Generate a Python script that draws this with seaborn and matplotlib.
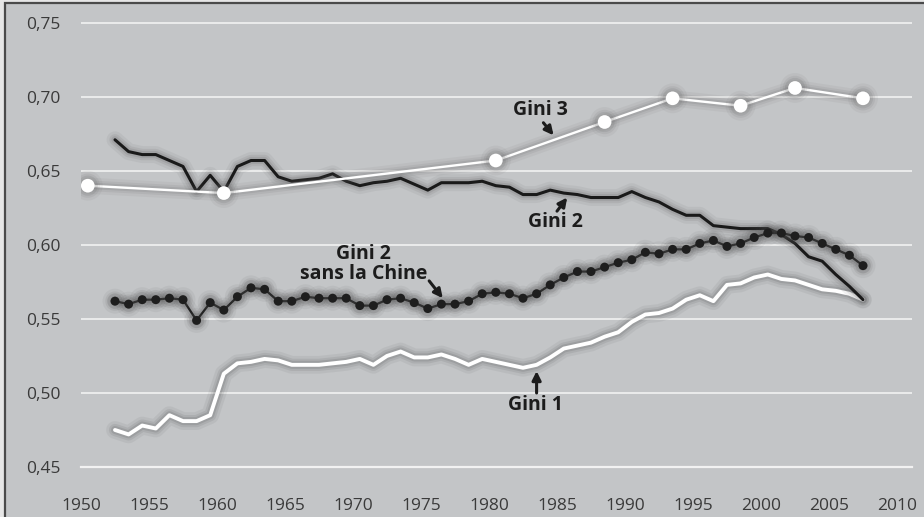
# Importar librerías necesarias
import numpy as np
import matplotlib
matplotlib.use("Agg")
import matplotlib.pyplot as plt
import matplotlib.patheffects as pe
from matplotlib.patches import Rectangle
import seaborn as sns

# ---------------- DATOS ---------------- #
# Años de las series anuales (1952-2007)
annees = list(range(1952, 2008))

gini1 = [0.475, 0.472, 0.478, 0.476, 0.485, 0.481, 0.481, 0.485, 0.513, 0.520,
         0.521, 0.523, 0.522, 0.519, 0.519, 0.519, 0.520, 0.521, 0.523, 0.519,
         0.525, 0.528, 0.524, 0.524, 0.526, 0.523, 0.519, 0.523, 0.521, 0.519,
         0.517, 0.519, 0.524, 0.530, 0.532, 0.534, 0.538, 0.541, 0.548, 0.553,
         0.554, 0.557, 0.563, 0.566, 0.562, 0.573, 0.574, 0.578, 0.580, 0.577,
         0.576, 0.573, 0.570, 0.569, 0.567, 0.563]

gini2 = [0.671, 0.663, 0.661, 0.661, 0.657, 0.653, 0.636, 0.647, 0.636, 0.653,
         0.657, 0.657, 0.646, 0.643, 0.644, 0.645, 0.648, 0.643, 0.640, 0.642,
         0.643, 0.645, 0.641, 0.637, 0.642, 0.642, 0.642, 0.643, 0.640, 0.639,
         0.634, 0.634, 0.637, 0.635, 0.634, 0.632, 0.632, 0.632, 0.636, 0.632,
         0.629, 0.624, 0.620, 0.620, 0.613, 0.612, 0.611, 0.611, 0.611, 0.607,
         0.601, 0.592, 0.589, 0.580, 0.572, 0.563]

gini2_sans_chine = [0.562, 0.560, 0.563, 0.563, 0.564, 0.563, 0.549, 0.561, 0.556, 0.565,
                    0.571, 0.570, 0.562, 0.562, 0.565, 0.564, 0.564, 0.564, 0.559, 0.559,
                    0.563, 0.564, 0.561, 0.557, 0.560, 0.560, 0.562, 0.567, 0.568, 0.567,
                    0.564, 0.567, 0.573, 0.578, 0.582, 0.582, 0.585, 0.588, 0.590, 0.595,
                    0.594, 0.597, 0.597, 0.601, 0.603, 0.599, 0.601, 0.605, 0.608, 0.608,
                    0.606, 0.605, 0.601, 0.597, 0.593, 0.586]

annees_gini3 = [1950, 1960, 1980, 1988, 1993, 1998, 2002, 2007]
gini3 = [0.640, 0.635, 0.657, 0.683, 0.699, 0.694, 0.706, 0.699]

yticks = [0.45, 0.50, 0.55, 0.60, 0.65, 0.70, 0.75]
ytick_labels = ["0,45", "0,50", "0,55", "0,60", "0,65", "0,70", "0,75"]
xticks = list(range(1950, 2011, 5))

# Les valeurs annuelles sont placées en milieu d'année
x_annuel = np.array(annees) + 0.5
x_gini3 = np.array(annees_gini3) + 0.5

# ---------------- ESTILO ---------------- #
sns.set_theme(style="white")
plt.rcParams['font.family'] = ['Open Sans', 'DejaVu Sans']

fond = "#c3c5c7"
texte = "#1c1c1c"

fig = plt.figure(figsize=(9.24, 5.17), dpi=100)
fig.patch.set_facecolor("#e6e6e6")
fig.patches.append(Rectangle((5 / 924, -0.05), 1.1, 1 - 3 / 517 + 0.05,
                             transform=fig.transFigure, facecolor=fond,
                             edgecolor="#4a4a4a", linewidth=1.6, zorder=-5))

ax = fig.add_axes([81 / 924, 50 / 517, 831 / 924, 459 / 517])
ax.set_facecolor("none")
ax.set_zorder(2)

# Sombras difusas bajo las líneas
def ombre(lw, couleur="#505050"):
    return [pe.Stroke(linewidth=lw + 10, foreground=couleur, alpha=0.07),
            pe.Stroke(linewidth=lw + 6, foreground=couleur, alpha=0.10),
            pe.Stroke(linewidth=lw + 3, foreground=couleur, alpha=0.14),
            pe.Normal()]

# ---------------- GRÁFICO ---------------- #
sns.lineplot(x=x_annuel, y=gini1, ax=ax, color="white", linewidth=2.8,
             path_effects=ombre(2.8, "#404040"), zorder=3)
sns.lineplot(x=x_annuel, y=gini2, ax=ax, color="#1a1a1a", linewidth=2.2,
             path_effects=ombre(2.2), zorder=4)
sns.lineplot(x=x_annuel, y=gini2_sans_chine, ax=ax, color="#1e1e1e", linewidth=1.6,
             marker="o", markersize=6.4, markeredgewidth=0,
             path_effects=ombre(1.6), zorder=5)
sns.lineplot(x=x_gini3, y=gini3, ax=ax, color="white", linewidth=1.7,
             marker="o", markersize=9.8, markeredgewidth=0,
             path_effects=ombre(1.7, "#606060"), zorder=6)

# Etiquetas de las series con flechas
fleche = dict(arrowstyle="-|>", color=texte, lw=2.2, mutation_scale=13,
              shrinkA=0, shrinkB=0)
police = dict(fontsize=14, fontweight="bold", color=texte, ha="center", va="center")

ax.text(1983.75, 0.6912, "Gini 3", **police, zorder=7)
ax.annotate("", xy=(1984.75, 0.6740), xytext=(1984.0, 0.6825), arrowprops=fleche, zorder=7)

ax.text(1984.85, 0.6155, "Gini 2", **police, zorder=7)
ax.annotate("", xy=(1985.75, 0.6320), xytext=(1985.0, 0.6228), arrowprops=fleche, zorder=7)

ax.text(1970.8, 0.5872, "Gini 2\nsans la Chine", linespacing=1.0, **police, zorder=7)
ax.annotate("", xy=(1976.6, 0.5640), xytext=(1975.6, 0.5757), arrowprops=fleche, zorder=7)

ax.text(1983.45, 0.4919, "Gini 1", **police, zorder=7)
ax.annotate("", xy=(1983.5, 0.5148), xytext=(1983.5, 0.5000), arrowprops=fleche, zorder=7)

# ---------------- EJES ---------------- #
ax.set_xlim(1950, 1950 + 831 / 13.6)
ax.set_ylim(0.45, 0.76)
ax.set_yticks(yticks)
ax.set_yticklabels(ytick_labels)
ax.set_xticks(xticks)
ax.set_xlabel("")
ax.set_ylabel("")

ax.grid(axis="y", color="#eeeeee", linewidth=1.3)
ax.grid(axis="x", visible=False)
ax.set_axisbelow(True)

for lado in ["top", "right", "left"]:
    ax.spines[lado].set_visible(False)
ax.spines["bottom"].set_color("#f2f2f2")
ax.spines["bottom"].set_linewidth(1.6)
ax.spines["bottom"].set_zorder(1)

ax.tick_params(axis="x", direction="out", length=5, width=1.4, color="#f2f2f2",
               pad=17, labelsize=12.5, labelcolor="#3a3a3a")
ax.tick_params(axis="y", length=0, pad=15, labelsize=12.5, labelcolor="#3a3a3a")

plt.savefig("out.png", dpi=100, facecolor=fig.get_facecolor())
plt.close()
